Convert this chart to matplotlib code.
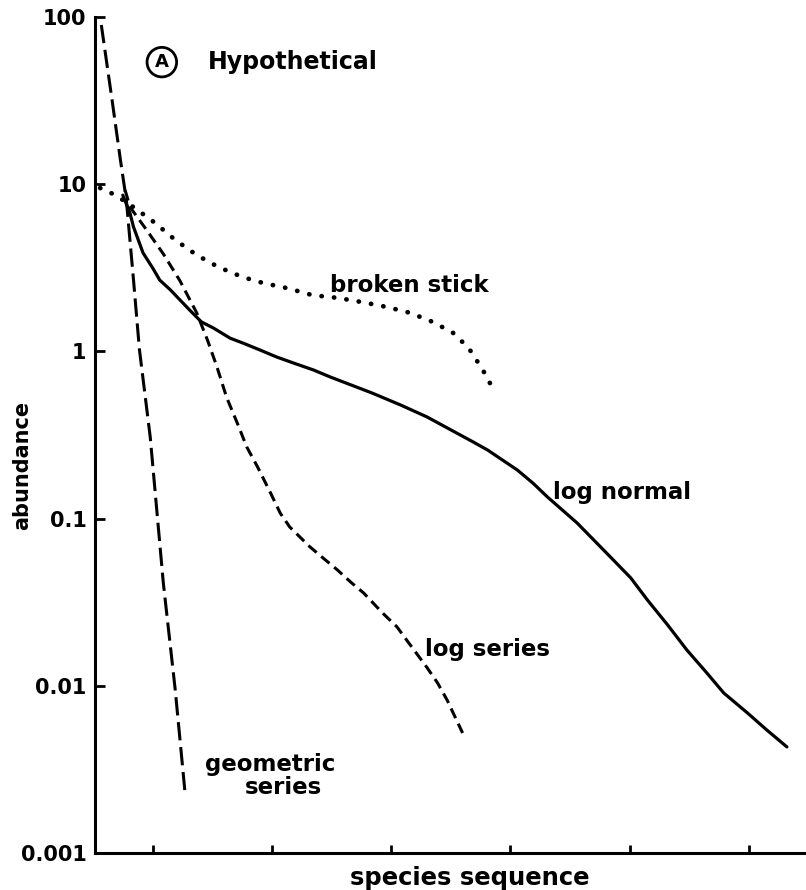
import numpy as np
import matplotlib.pyplot as plt

# species ranks (arbitrary sequence units) and abundances
geo_rank = [5.7, 6.6, 7.3, 7.8, 8.4, 8.9, 9.8, 10.9, 11.9, 12.7]
geo_abund = [89.6, 31.9, 14.0, 8.04, 2.67, 1.02, 0.308, 0.0412, 0.00944, 0.00238]

stick_rank = [5.6, 6.9, 8.5, 10.2, 11.9, 13.7, 15.5, 17.5, 19.3, 21.3,
              23.4, 25.5, 27.6, 29.7, 31.6, 33.5, 35.2, 36.5, 37.7, 38.7]
stick_abund = [9.49, 8.6, 7.21, 5.87, 4.64, 3.77, 3.20, 2.79, 2.56, 2.39,
               2.17, 2.09, 1.97, 1.84, 1.70, 1.50, 1.29, 1.05, 0.774, 0.571]

lognorm_rank = [7.5, 8.1, 8.4, 8.8, 9.2, 10.0, 10.6, 11.5, 12.3, 13.1, 14.1, 15.1,
                16.5, 17.6, 19.0, 20.4, 21.8, 23.5, 24.9, 26.0, 28.4, 30.8, 33.0,
                35.5, 36.9, 38.1, 40.6, 41.9, 43.1, 45.6, 47.0, 48.4, 50.1, 51.5,
                53.2, 54.8, 56.5, 57.9, 59.9, 61.5, 63.2]
lognorm_abund = [8.6, 6.73, 5.55, 4.64, 3.88, 3.16, 2.67, 2.33, 2.03, 1.77, 1.50, 1.38,
                 1.20, 1.12, 1.02, 0.926, 0.853, 0.774, 0.703, 0.656, 0.564, 0.478, 0.406,
                 0.325, 0.287, 0.257, 0.195, 0.163, 0.135, 0.0942, 0.0745, 0.0589,
                 0.0442, 0.0326, 0.0231, 0.0164, 0.0119, 0.00906, 0.00687, 0.00545,
                 0.00431]

logser_rank = [7.7, 8.1, 9.5, 10.9, 12.3, 13.7, 14.6, 15.4, 16.2, 17.1, 17.9, 18.8,
               19.9, 20.7, 21.5, 23.2, 24.3, 25.5, 26.6, 27.7, 29.3, 30.5, 31.3,
               33.0, 33.9, 34.7, 36.0]
logser_abund = [9.2, 7.31, 5.32, 3.83, 2.64, 1.70, 1.17, 0.807, 0.533, 0.373, 0.268,
                0.204, 0.142, 0.108, 0.0891, 0.0677, 0.0581, 0.0493, 0.0418, 0.0359,
                0.0272, 0.0225, 0.0188, 0.0129, 0.0104, 0.00822, 0.00522]

y_ticks = [0.001, 0.01, 0.1, 1, 10, 100]
y_labels = ["0.001", "0.01", "0.1", "1", "10", "100"]
x_ticks = [10, 20, 30, 40, 50, 60]

FONT = "DejaVu Sans"

fig = plt.figure(figsize=(8.06, 8.9), dpi=100)
ax = fig.add_axes([95 / 806, 37 / 890, 711 / 806, 836 / 890])

ax.plot(geo_rank, geo_abund, color="black", lw=2.2, linestyle=(0, (6, 2.2)))
ax.plot(stick_rank, stick_abund, color="black", lw=3.4, linestyle=(0, (0.05, 2.6)),
        dash_capstyle="round")
ax.plot(lognorm_rank, lognorm_abund, color="black", lw=2.3, solid_capstyle="round",
        solid_joinstyle="round")
ax.plot(logser_rank, logser_abund, color="black", lw=2.2, linestyle=(0, (3.5, 2.0)))

ax.set_yscale("log")
ax.set_ylim(0.001, 100)
ax.set_xlim(5.17, 64.8)
ax.set_yticks(y_ticks)
ax.set_yticklabels(y_labels)
ax.minorticks_off()
ax.set_xticks(x_ticks)
ax.set_xticklabels([])

for s in ["top", "right"]:
    ax.spines[s].set_visible(False)
for s in ["left", "bottom"]:
    ax.spines[s].set_linewidth(2.2)
ax.tick_params(axis="y", direction="in", length=7, width=2, pad=6, labelsize=15)
ax.tick_params(axis="x", direction="in", length=6, width=2)
for lab in ax.get_yticklabels():
    lab.set_fontweight("bold")
    lab.set_family(FONT)

# curve labels
lab_kw = dict(fontsize=16.5, fontweight="bold", family=FONT, va="center")
ax.text(24.9, 2.49, "broken stick", **lab_kw)
ax.text(43.6, 0.144, "log normal", **lab_kw)
ax.text(32.85, 0.0164, "log series", **lab_kw)
ax.text(14.4, 0.00336, "geometric", **lab_kw)
ax.text(17.75, 0.00246, "series", **lab_kw)

# panel tag
ax.text(0.094, 0.946, "A", transform=ax.transAxes, ha="center", va="center",
        fontsize=13, fontweight="bold", family=FONT,
        bbox=dict(boxstyle="circle,pad=0.32", fc="white", ec="black", lw=2))
ax.text(0.159, 0.946, "Hypothetical", transform=ax.transAxes, ha="left", va="center",
        fontsize=17, fontweight="bold", family=FONT)

fig.text(22 / 806, 1 - 465 / 890, "abundance", rotation=90, ha="center", va="center",
         fontsize=15, fontweight="bold", family=FONT)
fig.text(470 / 806, 1 - 878 / 890, "species sequence", ha="center", va="center",
         fontsize=17.5, fontweight="bold", family=FONT)

fig.savefig("out.png", dpi=100, facecolor="white")
